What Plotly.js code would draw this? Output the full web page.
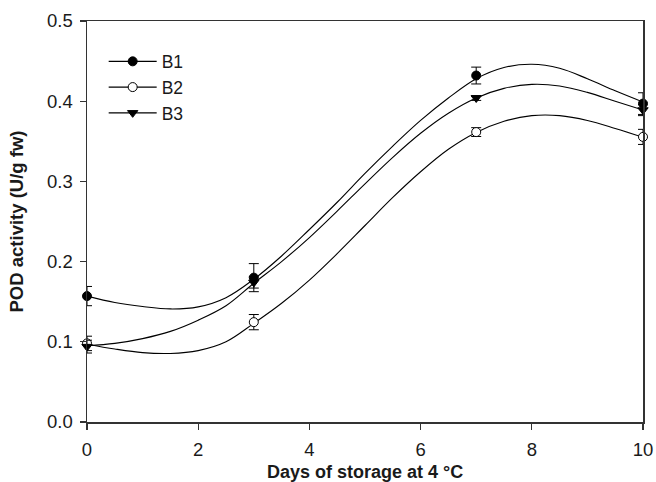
<!DOCTYPE html>
<html>
<head>
<meta charset="utf-8">
<script src="https://cdn.plot.ly/plotly-3.0.1.min.js"></script>
<style>html,body{margin:0;padding:0;background:#fff;}#chart{width:656px;height:482px;}</style>
</head>
<body>
<div id="chart"></div>
<script>
// Measured points (days of storage) with error bars
var days = [0, 3, 7, 10];
var b1 = [0.157, 0.180, 0.432, 0.397];
var b1Err = [0.012, 0.0175, 0.0105, 0.0135];
var b2 = [0.098, 0.1245, 0.3615, 0.3555];
var b2Err = [0.009, 0.0095, 0.0055, 0.0094];
var b3 = [0.094, 0.174, 0.404, 0.389];
var b3Err = [0.008, 0.007, 0.003, 0.007];

// Fitted curves
var curveX = [0, 0.5, 1, 1.5, 2, 2.5, 3, 3.5, 4, 4.5, 5, 5.5, 6, 6.5, 7, 7.5, 8, 8.5, 9, 9.5, 10];
var b1Curve = [0.157, 0.149, 0.144, 0.141, 0.1435, 0.155, 0.178, 0.207, 0.240, 0.274, 0.310, 0.344, 0.376, 0.404, 0.428, 0.442, 0.446, 0.441, 0.428, 0.413, 0.399];
var b2Curve = [0.097, 0.091, 0.0865, 0.0855, 0.089, 0.100, 0.123, 0.148, 0.177, 0.210, 0.245, 0.280, 0.312, 0.340, 0.361, 0.375, 0.382, 0.382, 0.376, 0.366, 0.355];
var b3Curve = [0.095, 0.098, 0.104, 0.113, 0.127, 0.145, 0.173, 0.200, 0.230, 0.263, 0.297, 0.330, 0.360, 0.385, 0.404, 0.416, 0.421, 0.419, 0.411, 0.400, 0.389];

var seriesNames = ['B1', 'B2', 'B3'];
var xTitle = 'Days of storage at 4 °C';
var yTitle = 'POD activity (U/g fw)';

var FONT = 'Arial, "Liberation Sans", sans-serif';
var TXT = '#1a1a1a';
var series = [
  {name: seriesNames[0], y: b1, err: b1Err, curve: b1Curve, symbol: 'circle', fill: '#000000'},
  {name: seriesNames[1], y: b2, err: b2Err, curve: b2Curve, symbol: 'circle', fill: '#ffffff'},
  {name: seriesNames[2], y: b3, err: b3Err, curve: b3Curve, symbol: 'triangle-down', fill: '#000000'}
];

var traces = [];
series.forEach(function (s) {
  traces.push({
    x: curveX, y: s.curve, type: 'scatter', mode: 'lines',
    line: {color: '#000', width: 1.1, shape: 'spline', smoothing: 1},
    showlegend: false, hoverinfo: 'skip'
  });
});
series.forEach(function (s) {
  traces.push({
    x: days, y: s.y, type: 'scatter', mode: 'markers', cliponaxis: false,
    marker: {symbol: s.symbol, size: 9, color: s.fill, line: {color: '#000', width: 1}},
    error_y: {type: 'data', array: s.err, visible: true, color: '#000', thickness: 1, width: 5},
    showlegend: false
  });
});
series.forEach(function (s) {
  traces.push({
    x: [null], y: [null], type: 'scatter', mode: 'lines+markers', name: s.name,
    line: {color: '#000', width: 1.1},
    marker: {symbol: s.symbol, size: 9, color: s.fill, line: {color: '#000', width: 1}}
  });
});

var layout = {
  width: 656, height: 482,
  margin: {l: 86.7, r: 12.7, t: 20.7, b: 60.3},
  paper_bgcolor: '#fff', plot_bgcolor: '#fff',
  font: {family: FONT, size: 18, color: TXT},
  showlegend: true,
  legend: {x: 0.03, y: 0.944, xanchor: 'left', yanchor: 'top', bgcolor: 'rgba(0,0,0,0)',
           font: {family: FONT, size: 17.5, color: TXT}, itemwidth: 48, tracegroupgap: 0},
  xaxis: {
    range: [0, 10], dtick: 2, tick0: 0, ticks: 'outside', ticklen: 6, tickwidth: 1.3, tickcolor: '#333',
    ticklabelstandoff: 4,
    showgrid: false, zeroline: false, showline: true, mirror: true, linecolor: '#333', linewidth: 1.5,
    tickfont: {family: FONT, size: 18.5, color: TXT}
  },
  yaxis: {
    range: [0, 0.5], dtick: 0.1, tick0: 0, tickformat: '.1f', ticks: 'outside', ticklen: 6, tickwidth: 1.3, tickcolor: '#333',
    ticklabelstandoff: 3,
    showgrid: false, zeroline: false, showline: true, mirror: true, linecolor: '#333', linewidth: 1.5,
    tickfont: {family: FONT, size: 18.5, color: TXT},
    title: {text: yTitle, font: {family: FONT, size: 18.5, color: TXT, weight: 'bold'}, standoff: 18}
  },
  annotations: [{
    text: xTitle, xref: 'paper', yref: 'paper', x: 0.5, y: 0, xanchor: 'center', yanchor: 'middle',
    yshift: -50, showarrow: false,
    font: {family: FONT, size: 18, color: TXT, weight: 'bold'}
  }]
};

Plotly.newPlot('chart', traces, layout, {staticPlot: true, displayModeBar: false});
</script>
</body>
</html>
